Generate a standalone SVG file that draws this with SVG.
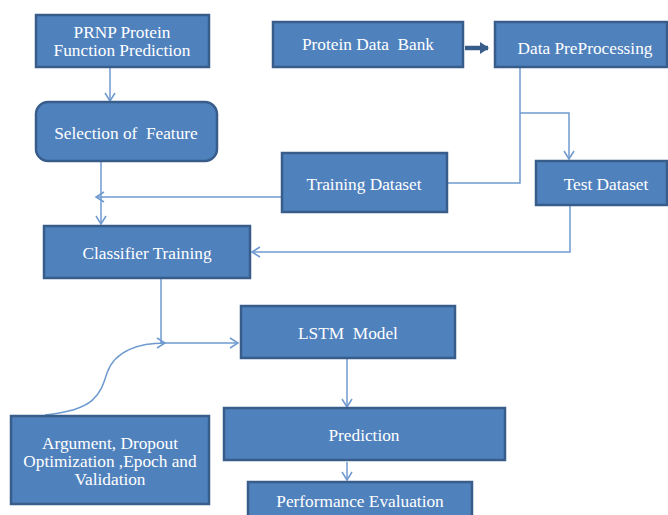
<svg xmlns="http://www.w3.org/2000/svg" width="668" height="515" viewBox="0 0 668 515">
<style>
.box{fill:#4F81BD;stroke:#385D8A;stroke-width:2.5}
.t{font-family:"Liberation Serif","Times New Roman",serif;font-size:17.3px;fill:#FFFFFF;text-anchor:middle;white-space:pre}
.c{fill:none;stroke:#6F9AD0;stroke-width:1.5}
</style>
<defs>
<marker id="v" markerWidth="12" markerHeight="12" refX="9" refY="6" orient="auto" markerUnits="userSpaceOnUse">
<path d="M1,1 L9,6 L1,11" fill="none" stroke="#6F9AD0" stroke-width="1.5"/>
</marker>
<marker id="thick" markerWidth="12" markerHeight="14" refX="8" refY="7" orient="auto" markerUnits="userSpaceOnUse">
<path d="M0,1 L9,7 L0,13 Z" fill="#385D8A"/>
</marker>
</defs>
<g id="connectors">
<path class="c" d="M110,68 V101" marker-end="url(#v)"/>
<path class="c" d="M101,162 V224" marker-end="url(#v)"/>
<path class="c" d="M281,197 H96" marker-end="url(#v)"/>
<path class="c" d="M520,68 V183 H448"/>
<path class="c" d="M520,113 H569 V159" marker-end="url(#v)"/>
<path class="c" d="M570,206 V252 H252" marker-end="url(#v)"/>
<path class="c" d="M161,279 V343 H238" marker-end="url(#v)"/>
<path class="c" d="M45,415 C95,410 100,395 107,373 C115,350 140,343 165,343" marker-end="url(#v)"/>
<path class="c" d="M347,359 V407" marker-end="url(#v)"/>
<path class="c" d="M347,462 V480" marker-end="url(#v)"/>
<path d="M465,48 H488" fill="none" stroke="#385D8A" stroke-width="4.5" marker-end="url(#thick)"/>
</g>
<g id="prnp"><rect class="box" x="36" y="15" width="173" height="52"/><text class="t" x="122" y="38">PRNP Protein</text><text class="t" x="122" y="56">Function Prediction</text></g>
<g id="selection"><rect class="box" x="36" y="102" width="181" height="59" rx="12"/><text class="t" x="126" y="139">Selection of  Feature</text></g>
<g id="pdb"><rect class="box" x="273" y="22" width="190" height="45"/><text class="t" x="368" y="50">Protein Data  Bank</text></g>
<g id="preprocessing"><rect class="box" x="495" y="22" width="172" height="45"/><text class="t" x="585" y="54">Data PreProcessing</text></g>
<g id="training"><rect class="box" x="282" y="153" width="165" height="59"/><text class="t" x="364" y="190">Training Dataset</text></g>
<g id="test"><rect class="box" x="536" y="161" width="131" height="44"/><text class="t" x="606" y="190">Test Dataset</text></g>
<g id="classifier"><rect class="box" x="44" y="226" width="206" height="52"/><text class="t" x="147" y="259">Classifier Training</text></g>
<g id="lstm"><rect class="box" x="241" y="306" width="214" height="52"/><text class="t" x="348" y="339">LSTM  Model</text></g>
<g id="prediction"><rect class="box" x="224" y="408" width="281" height="52"/><text class="t" x="364" y="441">Prediction</text></g>
<g id="performance"><rect class="box" x="248" y="482" width="224" height="40"/><text class="t" x="360" y="507">Performance Evaluation</text></g>
<g id="argument"><rect class="box" x="11" y="416" width="198" height="88"/><text class="t" x="110" y="449">Argument, Dropout</text><text class="t" x="110" y="467">Optimization ,Epoch and</text><text class="t" x="110" y="485">Validation</text></g>
</svg>
